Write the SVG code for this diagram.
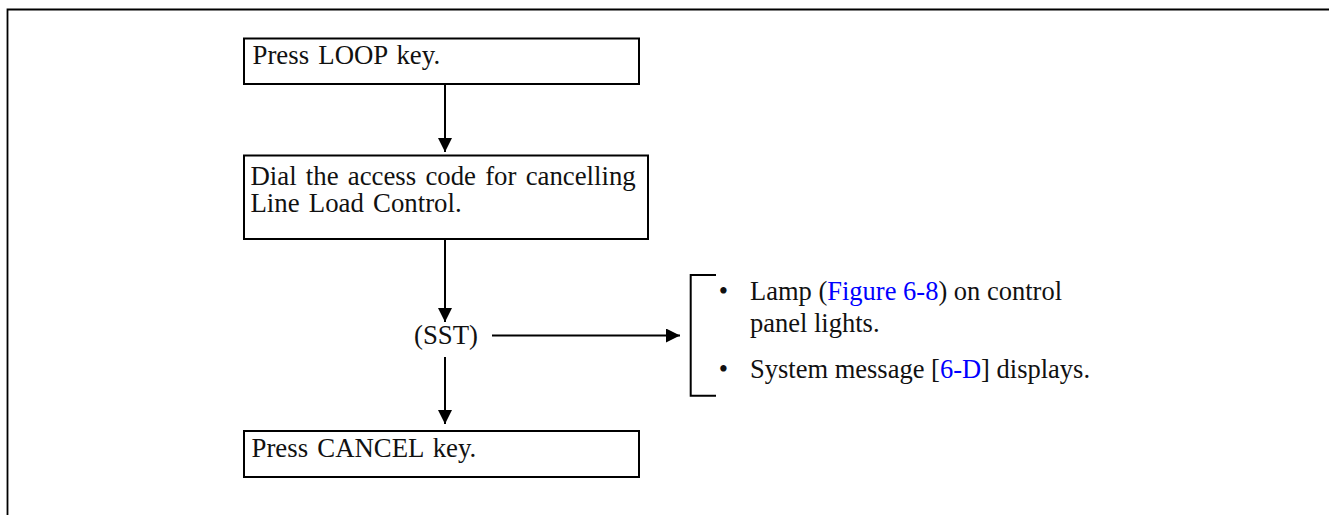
<svg xmlns="http://www.w3.org/2000/svg" width="1329" height="515" viewBox="0 0 1329 515">
<style>
.t{font-family:"Liberation Serif","Times New Roman",serif;font-size:26.8px;fill:#111}
.w{word-spacing:2.5px}
.s{font-size:26.5px}
.box{fill:none;stroke:#000;stroke-width:2}
.con{stroke:#000;stroke-width:2;fill:none}
.lnk{fill:#0000ff}
</style>
<defs>
<marker id="ah" markerUnits="userSpaceOnUse" markerWidth="14" markerHeight="14" refX="14" refY="7" orient="auto">
<path d="M0,0 L14,7 L0,14 Z" fill="#000"/>
</marker>
</defs>
<rect width="1329" height="515" fill="#fff"/>
<path d="M7.5,515 V9.5 H1329" fill="none" stroke="#000" stroke-width="1.8"/>
<g id="n1">
<rect class="box" x="244" y="38.5" width="395" height="45.5"/>
<text class="t w" x="252.5" y="63.5">Press LOOP key.</text>
</g>
<g id="n2">
<rect class="box" x="244" y="155.5" width="404" height="83.5"/>
<text class="t w" x="250.5" y="184.5">Dial the access code for cancelling</text>
<text class="t w" x="250.5" y="211.5">Line Load Control.</text>
</g>
<g id="n3">
<text class="t" x="446" y="344" text-anchor="middle">(SST)</text>
</g>
<g id="n4">
<rect class="box" x="244" y="431" width="395" height="46"/>
<text class="t w" x="251.5" y="456.5">Press CANCEL key.</text>
</g>
<g id="n5">
<path class="con" d="M716,275 H690.7 V395.7 H716"/>
<text class="t s" x="723.5" y="300" text-anchor="middle">•</text>
<text class="t s" x="750" y="300">Lamp (<tspan class="lnk">Figure 6-8</tspan>) on control</text>
<text class="t s" x="750" y="332">panel lights.</text>
<text class="t s" x="723.5" y="378" text-anchor="middle">•</text>
<text class="t s" x="750" y="378">System message [<tspan class="lnk">6-D</tspan>] displays.</text>
</g>
<g id="connectors">
<line class="con" x1="445" y1="84" x2="445" y2="152" marker-end="url(#ah)"/>
<line class="con" x1="445" y1="239" x2="445" y2="322" marker-end="url(#ah)"/>
<line class="con" x1="445" y1="357" x2="445" y2="424" marker-end="url(#ah)"/>
<line class="con" x1="492" y1="335.5" x2="680" y2="335.5" marker-end="url(#ah)"/>
</g>
</svg>
